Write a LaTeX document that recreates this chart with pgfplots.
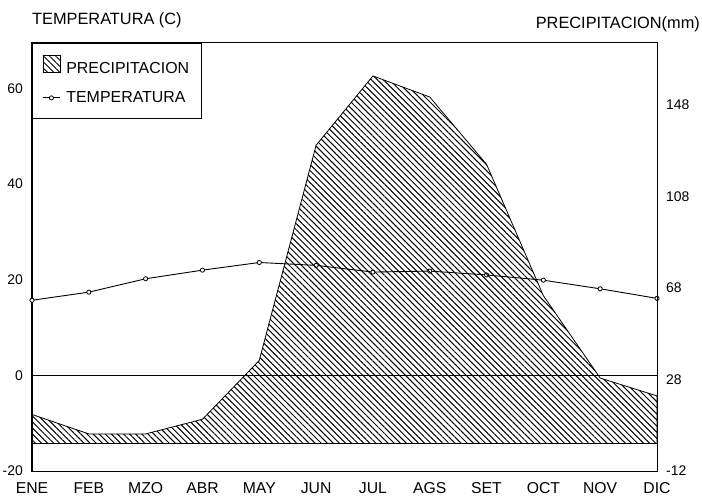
\documentclass[border=0pt]{standalone}
\usepackage{fontspec}
\setmainfont{Liberation Sans}
\usepackage{pgfplots}
\pgfplotsset{compat=1.18}
\usetikzlibrary{patterns.meta}

\begin{document}
\begin{tikzpicture}
% left axis: temperature
\begin{axis}[
  at={(0,0)}, anchor=south west,
  scale only axis, width=625bp, height=428bp,
  xmin=0, xmax=11, ymin=-20, ymax=69.5,
  axis line style={line width=1bp},
  tick pos=left,
  xtick={0,1,2,3,4,5,6,7,8,9,10,11},
  xticklabels={ENE,FEB,MZO,ABR,MAY,JUN,JUL,AGS,SET,OCT,NOV,DIC},
  ytick={-20,0,20,40,60},
  major tick length=0pt,
  /pgf/number format/assume math mode=true,
  xticklabel style={font=\fontsize{15.8}{18}\selectfont, inner sep=0pt, anchor=north, yshift=-11bp},
  yticklabel style={font=\fontsize{14}{16}\selectfont, inner sep=0pt, anchor=east, xshift=-9bp},
  clip=false,
]
\addplot[black, line width=0.9bp, forget plot] coordinates {(0,0) (11,0)};
\addplot[black, line width=0.9bp, mark=*, mark size=2.1bp, mark options={fill=white, line width=0.8bp}] coordinates {
(0,15.7) (1,17.4) (2,20.2) (3,22.0) (4,23.6) (5,23.0) (6,21.6) (7,21.8) (8,21.0) (9,19.9) (10,18.1) (11,16.1)};
\end{axis}
% right axis: precipitation
\begin{axis}[
  at={(0,0)}, anchor=south west,
  scale only axis, width=625bp, height=428bp,
  xmin=0, xmax=11, ymin=-12, ymax=175,
  axis x line=none, axis y line*=right,
  axis line style={line width=1bp},
  ytick={-12,28,68,108,148},
  major tick length=0pt,
  /pgf/number format/assume math mode=true,
  yticklabel style={font=\fontsize{14}{16}\selectfont, inner sep=0pt, anchor=west, xshift=9bp},
  clip=false,
  legend cell align=left,
  legend style={at={(axis description cs:0,1)}, anchor=north west, draw=black, line width=0.9bp,
    font=\fontsize{16}{18}\selectfont, inner xsep=10bp, inner ysep=12bp, row sep=13bp,
    /tikz/every odd column/.append style={column sep=4bp}},
]
\addplot[draw=black, line width=0.8bp, pattern={Lines[angle=-45,distance=4.3bp,line width=1bp]},
  legend image code/.code={\draw[draw=black, line width=0.8bp, pattern={Lines[angle=-45,distance=4.3bp,line width=0.9bp]}] (0bp,-4.5bp) rectangle (17bp,12.5bp);}]
  coordinates {
(0,12.7) (1,4.2) (2,4.2) (3,10.6) (4,36.3) (5,130.3) (6,160.6) (7,151.4) (8,122) (9,64.6) (10,28.6) (11,20.8)} \closedcycle;
\addlegendentry{PRECIPITACION}
\addlegendimage{black, line width=0.9bp, mark=*, mark size=2.1bp, mark options={fill=white, line width=0.8bp}}
\addlegendentry{TEMPERATURA}
\addplot[black, line width=0.9bp, forget plot] coordinates {(0,0) (11,0)};
\end{axis}
\node[anchor=base west, inner sep=0pt, font=\fontsize{16.4}{19}\selectfont] at (0bp,446bp) {TEMPERATURA (C)};
\node[anchor=base east, inner sep=0pt, font=\fontsize{16.4}{19}\selectfont] at (668bp,442bp) {PRECIPITACION(mm)};
\path (-32bp,-28bp) rectangle (670bp,471bp);
\end{tikzpicture}
\end{document}
